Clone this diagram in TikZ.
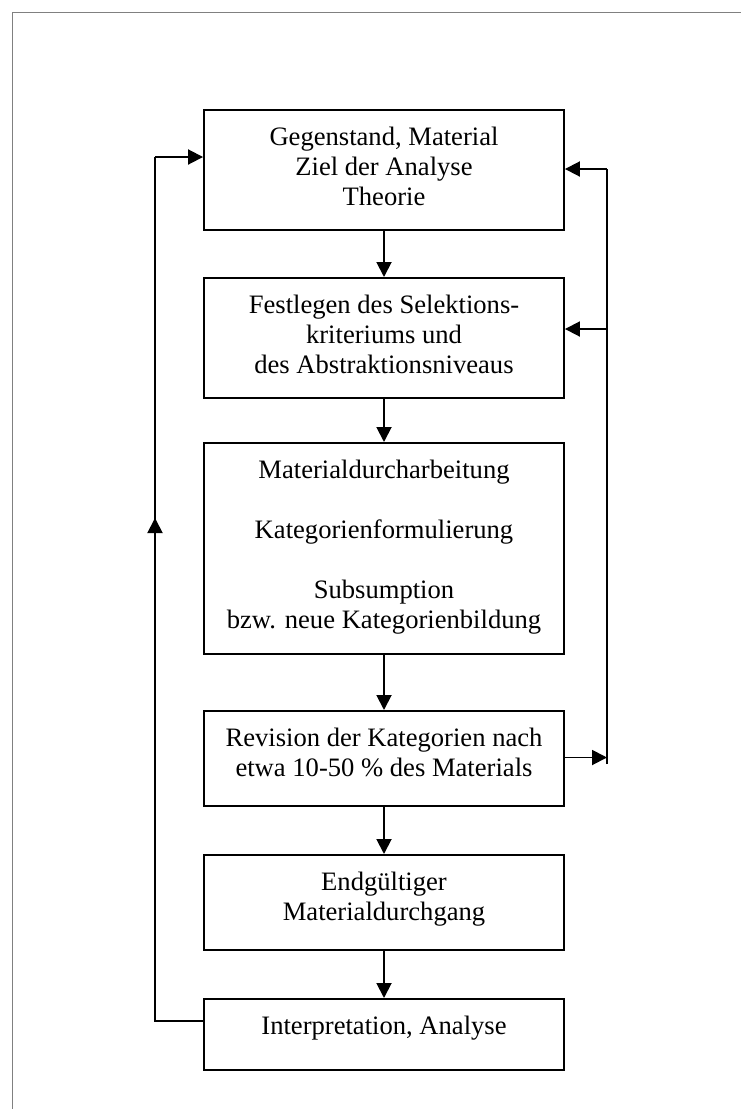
\documentclass[tikz,border=0pt]{standalone}
\usepackage{fontspec}
\setmainfont{Liberation Serif}
\usetikzlibrary{arrows.meta}
\begin{document}
\begin{tikzpicture}[x=1pt,y=-1pt,
  box/.style={draw, line width=1.9pt, minimum width=360pt, inner sep=0pt, anchor=north},
  txt/.style={font=\fontsize{26.6}{30}\selectfont, align=center, inner sep=0pt, anchor=north},
  arr/.style={line width=1.9pt, -{Triangle[length=15pt,width=15pt]}},
  ln/.style={line width=1.9pt},
  frame/.style={draw=gray, line width=1pt}
]
\useasboundingbox (0,0) rectangle (741,1109);
\coordinate (fb) at (12,1109);
\coordinate (fc) at (12,12);
\coordinate (fr) at (741,12);
\draw[frame] (fb) -- (fc) -- (fr);

\node[box, minimum height=120pt] (b1) at (384,109) {};
\node[box, minimum height=120pt] (b2) at (384,277) {};
\node[box, minimum height=211pt] (b3) at (384,442) {};
\node[box, minimum height=95pt] (b4) at (384,710) {};
\node[box, minimum height=95pt] (b5) at (384,854) {};
\node[box, minimum height=71pt] (b6) at (384,998) {};

\node[txt] (t1) at ([yshift=-17.5pt]b1.north) {Gegenstand, Material\\Ziel der Analyse\\Theorie};
\node[txt] (t2) at ([yshift=-17.5pt]b2.north) {Festlegen des Selektions-\\kriteriums und\\des Abstraktionsniveaus};
\node[txt] (t3) at ([yshift=-17.5pt]b3.north) {Materialdurcharbeitung\\[30pt]Kategorienformulierung\\[30pt]Subsumption\\bzw. neue Kategorienbildung};
\node[txt] (t4) at ([yshift=-17.5pt]b4.north) {Revision der Kategorien nach\\etwa 10-50 \% des Materials};
\node[txt] (t5) at ([yshift=-17.5pt]b5.north) {Endgültiger\\Materialdurchgang};
\node[txt] (t6) at ([yshift=-17.5pt]b6.north) {Interpretation, Analyse};

\draw[arr] (b1) -- (b2);
\draw[arr] (b2) -- (b3);
\draw[arr] (b3) -- (b4);
\draw[arr] (b4) -- (b5);
\draw[arr] (b5) -- (b6);

% right feedback loop
\coordinate (rbot) at (607,764);
\coordinate (rtop) at (607,169);
\coordinate (r2) at (607,329);
\coordinate (r4) at (607,757.5);
\draw[ln] (rbot) -- (rtop);
\draw[arr] (rtop) -- (b1.east |- rtop);
\draw[arr] (r2) -- (b2.east |- r2);
\draw[arr] (b4.east |- r4) -- (r4);

% left feedback loop
\coordinate (l6) at (155,1021);
\coordinate (l1) at (155,157);
\coordinate (lm) at (155,518);
\draw[ln] (b6.west |- l6) -- (l6) -- (l1);
\draw[arr] (l1) -- (b1.west |- l1);
\draw[arr] (l6) -- (lm);
\end{tikzpicture}
\end{document}
